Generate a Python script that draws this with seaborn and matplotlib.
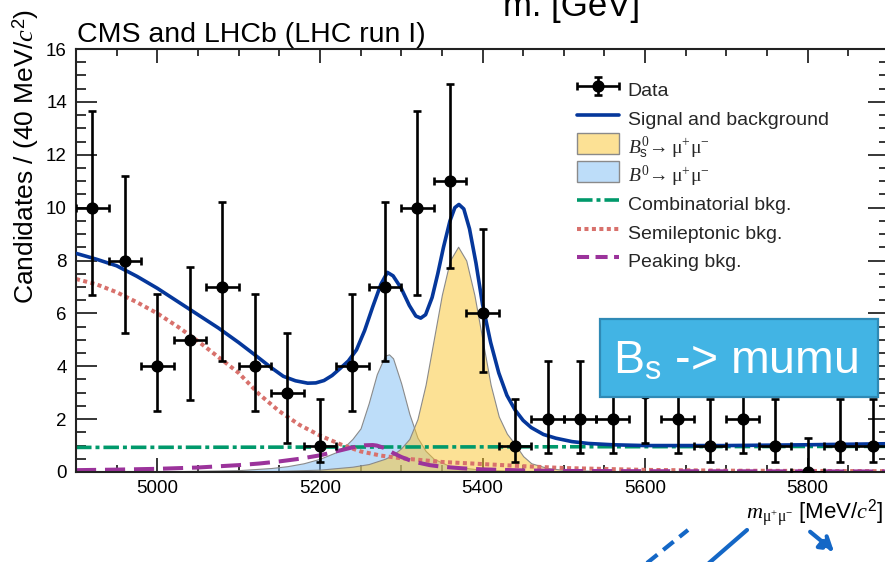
import numpy as np
import pandas as pd
import seaborn as sns
import matplotlib
matplotlib.use("Agg")
import matplotlib.pyplot as plt
from matplotlib.lines import Line2D
from matplotlib.patches import Patch, Rectangle, FancyArrowPatch
from matplotlib.legend_handler import HandlerErrorbar, HandlerPatch
from matplotlib.ticker import MultipleLocator

# ---------------- data ----------------
bin_centers = [4920, 4960, 5000, 5040, 5080, 5120, 5160, 5200, 5240, 5280, 5320, 5360, 5400,
               5440, 5480, 5520, 5560, 5600, 5640, 5680, 5720, 5760, 5800, 5840, 5880]
counts = [10, 8, 4, 5, 7, 4, 3, 1, 4, 7, 10, 11, 6, 1, 2, 2, 2, 3, 2, 1, 2, 1, 0, 1, 1]
err_lower_edge = [6.69, 5.26, 2.32, 2.72, 4.2, 2.32, 1.08, 0.37, 2.32, 4.2, 6.69, 7.7, 3.77,
                  0.37, 0.7, 0.7, 0.7, 1.08, 0.7, 0.37, 0.7, 0.37, 0.0, 0.37, 0.37]
err_upper_edge = [13.67, 11.2, 6.73, 7.74, 10.2, 6.73, 5.27, 2.75, 6.73, 10.2, 13.67, 14.67, 9.19,
                  2.75, 4.2, 4.2, 4.2, 5.27, 4.2, 2.75, 4.2, 2.75, 1.3, 2.75, 2.75]
bin_half_width = 20

tot_x = [4900, 4925, 4950, 4975, 5000, 5025, 5050, 5075, 5100, 5120, 5140, 5155, 5170, 5185,
         5195, 5205, 5215, 5225, 5235, 5245, 5255, 5265, 5275, 5283, 5290, 5300, 5310, 5318,
         5324, 5330, 5338, 5345, 5352, 5360, 5366, 5371, 5377, 5384, 5392, 5400, 5410, 5420,
         5430, 5440, 5450, 5460, 5475, 5490, 5510, 5530, 5560, 5600, 5700, 5800, 5900]
tot_y = [8.27, 8.05, 7.8, 7.4, 6.95, 6.45, 5.95, 5.45, 4.9, 4.43, 3.95, 3.62, 3.45, 3.36,
         3.37, 3.46, 3.65, 3.92, 4.2, 4.62, 5.35, 6.25, 7.1, 7.55, 7.42, 6.95, 6.3, 5.9,
         5.82, 5.95, 6.6, 7.5, 8.5, 9.5, 10.0, 10.12, 9.95, 9.2, 7.9, 6.35, 4.9, 3.75,
         2.9, 2.35, 1.95, 1.68, 1.42, 1.28, 1.15, 1.08, 1.03, 1.0, 1.0, 1.03, 1.07]

bs_x = [5150, 5200, 5240, 5260, 5280, 5290, 5300, 5310, 5320, 5330, 5340, 5350, 5360, 5370,
        5380, 5390, 5400, 5410, 5420, 5430, 5440, 5450, 5460, 5480, 5500, 5550, 5600]
bs_y = [0.04, 0.09, 0.2, 0.3, 0.5, 0.65, 0.9, 1.25, 2.0, 3.3, 5.0, 6.7, 8.0, 8.52,
        8.0, 6.7, 5.0, 3.3, 2.1, 1.45, 1.05, 0.6, 0.33, 0.15, 0.08, 0.03, 0.01]

b0_x = [5000, 5100, 5140, 5160, 5180, 5200, 5220, 5230, 5240, 5250, 5260, 5270, 5280, 5285,
        5290, 5300, 5310, 5320, 5330, 5340, 5360, 5400, 5450]
b0_y = [0.02, 0.07, 0.15, 0.22, 0.33, 0.5, 0.75, 0.95, 1.25, 1.65, 2.6, 3.7, 4.4, 4.45,
        4.3, 3.35, 2.2, 1.3, 0.8, 0.5, 0.22, 0.08, 0.03]

comb_x = [4900, 5400, 5900]
comb_y = [0.93, 0.95, 0.97]

semi_x = [4900, 4925, 4950, 4975, 5000, 5025, 5050, 5075, 5100, 5125, 5150, 5175, 5200, 5225,
          5250, 5275, 5300, 5350, 5400, 5450, 5500, 5600, 5700, 5800, 5900]
semi_y = [7.3, 7.1, 6.8, 6.42, 6.0, 5.5, 4.95, 4.35, 3.75, 2.95, 2.3, 1.78, 1.38, 1.05,
          0.78, 0.62, 0.52, 0.38, 0.3, 0.22, 0.15, 0.08, 0.05, 0.04, 0.03]

peak_x = [4900, 4950, 5000, 5050, 5100, 5125, 5150, 5175, 5200, 5220, 5240, 5255, 5265, 5270,
          5280, 5290, 5300, 5310, 5320, 5335, 5350, 5375, 5400, 5450, 5500, 5600, 5900]
peak_y = [0.07, 0.09, 0.12, 0.17, 0.26, 0.32, 0.4, 0.5, 0.63, 0.78, 0.93, 1.01, 1.02, 1.0,
          0.9, 0.72, 0.57, 0.45, 0.36, 0.26, 0.2, 0.14, 0.1, 0.06, 0.04, 0.03, 0.02]

legend_labels = ["Data", "Signal and background",
                 r"$B^{\mathbf{0}}_{\mathrm{s}}\!\rightarrow\mathbf{\mu^{+}\mu^{-}}$",
                 r"$B^{\mathbf{0}}\!\rightarrow\mathbf{\mu^{+}\mu^{-}}$",
                 "Combinatorial bkg.", "Semileptonic bkg.", "Peaking bkg."]
x_ticks = [5000, 5200, 5400, 5600, 5800]
y_ticks = [0, 2, 4, 6, 8, 10, 12, 14, 16]

# ---------------- style ----------------
sns.set_theme(style="ticks")
plt.rcParams['font.family'] = ['Liberation Sans', 'DejaVu Sans']
plt.rcParams['mathtext.fontset'] = 'custom'
plt.rcParams['mathtext.rm'] = 'Liberation Sans'
plt.rcParams['mathtext.it'] = 'Liberation Serif:italic'
plt.rcParams['mathtext.bf'] = 'Liberation Serif'

C_TOT = '#05379b'
C_BS = (0.984, 0.773, 0.176, 0.5)
C_B0 = (0.49, 0.74, 0.96, 0.5)
C_EDGE = '#8a8a8a'
C_COMB = '#00996b'
C_SEMI = '#d8716c'
C_PEAK = '#9b339b'

W, H = 885, 562
fig = plt.figure(figsize=(W / 100, H / 100), dpi=100)
ax_l, ax_r, ax_t, ax_b = 76, 889, 49, 472
ax = fig.add_axes([ax_l / W, 1 - ax_b / H, (ax_r - ax_l) / W, (ax_b - ax_t) / H])

# fills
ax.fill_between(b0_x, 0, b0_y, facecolor=C_B0, edgecolor=C_EDGE, linewidth=0.8, zorder=1)
ax.fill_between(bs_x, 0, bs_y, facecolor=C_BS, edgecolor=C_EDGE, linewidth=0.8, zorder=1.1)

# component curves
df_comb = pd.DataFrame({'m': comb_x, 'v': comb_y})
df_semi = pd.DataFrame({'m': semi_x, 'v': semi_y})
df_peak = pd.DataFrame({'m': peak_x, 'v': peak_y})
df_tot = pd.DataFrame({'m': tot_x, 'v': tot_y})

sns.lineplot(data=df_comb, x='m', y='v', ax=ax, color=C_COMB, lw=2.6, legend=False,
             estimator=None, sort=False, zorder=2)
ax.lines[-1].set_dashes((4.3, 1.1, 1.1, 1.1))
sns.lineplot(data=df_semi, x='m', y='v', ax=ax, color=C_SEMI, lw=2.9, legend=False,
             estimator=None, sort=False, zorder=2.1)
ax.lines[-1].set_dashes((1.0, 0.85))
sns.lineplot(data=df_peak, x='m', y='v', ax=ax, color=C_PEAK, lw=2.9, legend=False,
             estimator=None, sort=False, zorder=2.2)
ax.lines[-1].set_dashes((5.0, 2.2))
sns.lineplot(data=df_tot, x='m', y='v', ax=ax, color=C_TOT, lw=2.6, legend=False,
             estimator=None, sort=False, zorder=3)

# data points
counts_a = np.array(counts, float)
yerr = [counts_a - np.array(err_lower_edge), np.array(err_upper_edge) - counts_a]
eb = ax.errorbar(bin_centers, counts, xerr=bin_half_width, yerr=yerr, fmt='o', color='black',
                 ms=7.8, elinewidth=1.9, capsize=2.6, capthick=1.9, zorder=5)

ax.set_xlim(4900, 5900)
ax.set_ylim(0, 16)
ax.set_xticks(x_ticks)
ax.set_yticks(y_ticks)
ax.xaxis.set_minor_locator(MultipleLocator(50))
ax.yaxis.set_minor_locator(MultipleLocator(0.5))
ax.set_xlabel('')
ax.set_ylabel('')
ax.tick_params(axis='both', which='both', direction='in', top=True, right=True,
               width=1.1, color='black', labelsize=13.5, labelcolor='black')
ax.tick_params(axis='x', which='major', length=10, pad=6)
ax.tick_params(axis='x', which='minor', length=5)
ax.tick_params(axis='y', which='major', length=15, pad=6.5)
ax.tick_params(axis='y', which='minor', length=7.5)
for s in ax.spines.values():
    s.set_linewidth(1.5)
    s.set_color('#222222')
ax.set_facecolor('white')
ax.grid(False)

# legend
def rect_patch(legend, orig_handle, xdescent, ydescent, width, height, fontsize):
    h = 1.07 * fontsize
    yc = (height - ydescent) / 2.0
    return Rectangle((-xdescent, yc - h / 2.0), width, h)

h_tot = Line2D([], [], color=C_TOT, lw=2.6)
h_bs = Patch(facecolor=C_BS, edgecolor=C_EDGE, linewidth=1.0)
h_b0 = Patch(facecolor=C_B0, edgecolor=C_EDGE, linewidth=1.0)
h_comb = Line2D([], [], color=C_COMB, lw=2.6, dashes=(4.3, 1.1, 1.1, 1.1))
h_semi = Line2D([], [], color=C_SEMI, lw=2.9, dashes=(1.0, 0.85))
h_peak = Line2D([], [], color=C_PEAK, lw=2.9, dashes=(3.0, 1.6))
leg = ax.legend([eb, h_tot, h_bs, h_b0, h_comb, h_semi, h_peak], legend_labels,
                loc='upper left', bbox_to_anchor=(577 / W, 1 - 76 / H),
                bbox_transform=fig.transFigure, frameon=False, fontsize=14,
                handlelength=2.15, handleheight=1.846, handletextpad=0.45,
                labelspacing=0.02, borderpad=0, borderaxespad=0,
                handler_map={type(eb): HandlerErrorbar(xerr_size=1.07, yerr_size=0.46),
                             Patch: HandlerPatch(patch_func=rect_patch)})

# texts
fig.text(77 / W, 1 - 42.5 / H, "CMS and LHCb (LHC run I)", fontsize=20.5,
         ha='left', va='baseline', color='black')
fig.text(33.5 / W, 1 - 9 / H, r"Candidates / (40 MeV/$c^{2}$)", fontsize=19,
         rotation=90, rotation_mode='anchor', ha='right', va='baseline', color='black')
fig.text(746 / W, 1 - 518.5 / H, r"$m_{\mathbf{\mu^{+}\mu^{-}}}$ [MeV/$c^{2}$]", fontsize=16,
         ha='left', va='baseline', color='black')
fig.text(503 / W, 1 - 16 / H, "m. [GeV]", fontsize=25, ha='left', va='baseline', color='black')

# slide overlay box
fig.patches.append(Rectangle((600 / W, 1 - 397 / H), 278 / W, 78 / H, transform=fig.transFigure,
                             facecolor='#42b4e4', edgecolor='#2f8ab6', linewidth=1.6, zorder=10))
fig.text(613 / W, 1 - 374 / H, r"B$_{\mathrm{s}}$ -> mumu", fontsize=33.5, color='white',
         ha='left', va='baseline', zorder=11)

# slide arrows
C_ARR = '#1467c6'
fig.add_artist(Line2D([647 / W, 688 / W], [1 - 563 / H, 1 - 530 / H], transform=fig.transFigure,
                      color=C_ARR, lw=3, dashes=(3.2, 1.8)))
fig.add_artist(Line2D([709 / W, 747 / W], [1 - 563 / H, 1 - 530 / H], transform=fig.transFigure,
                      color=C_ARR, lw=3))
fig.add_artist(FancyArrowPatch((808 / W, 1 - 530 / H), (836 / W, 1 - 553 / H),
                               transform=fig.transFigure, arrowstyle='-|>,head_length=8,head_width=5',
                               color=C_ARR, lw=3, linestyle=(0, (3.2, 1.8)), mutation_scale=1))

fig.savefig('out.png', dpi=100, facecolor='white')
